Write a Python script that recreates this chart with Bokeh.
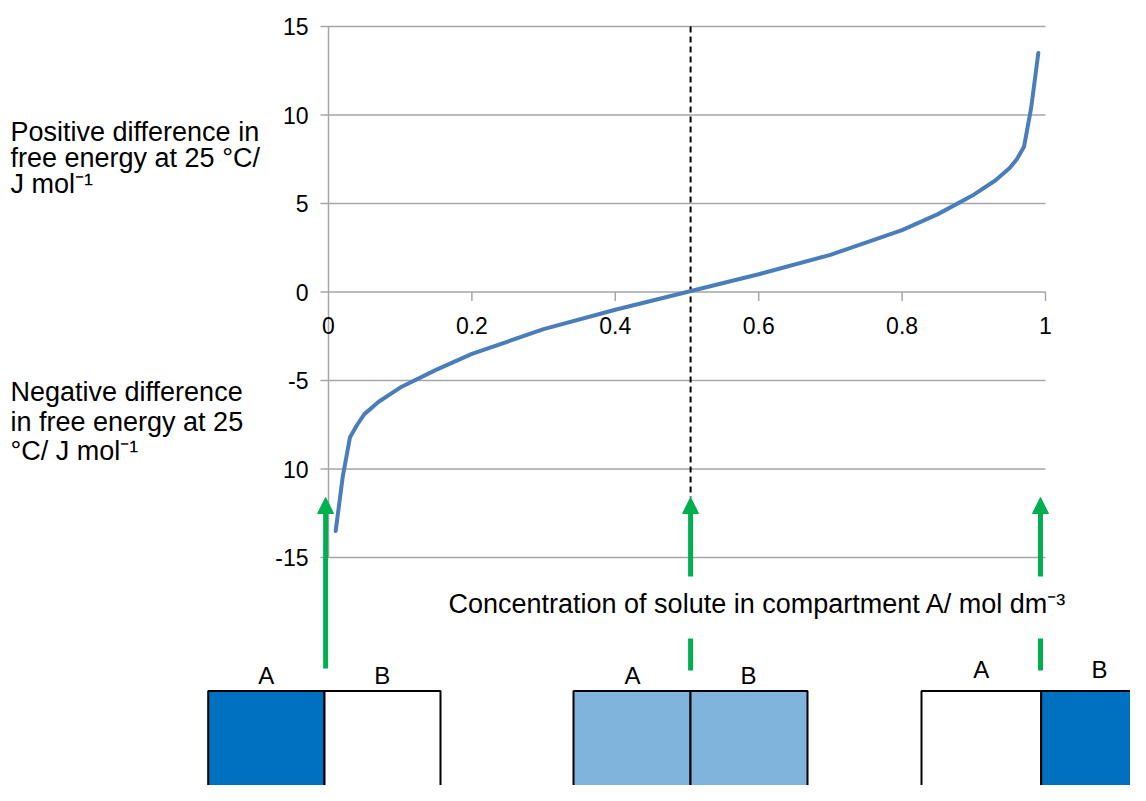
from bokeh.plotting import figure
from bokeh.models import Range1d, Arrow, NormalHead
from bokeh.core.properties import value
from bokeh.embed import file_html
from bokeh.resources import INLINE

# ---------------- data ----------------
conc = [0.01, 0.02, 0.03, 0.04, 0.05, 0.07, 0.10, 0.15, 0.20, 0.30, 0.40, 0.50,
        0.60, 0.70, 0.80, 0.85, 0.90, 0.93, 0.95, 0.96, 0.97, 0.98, 0.99]
dG = [-13.5, -10.4, -8.2, -7.5, -6.9, -6.2, -5.4, -4.4, -3.5, -2.1, -1.0, 0.0,
      1.0, 2.1, 3.5, 4.4, 5.5, 6.3, 7.0, 7.5, 8.2, 10.4, 13.5]

x_ticks = [0.0, 0.2, 0.4, 0.6, 0.8, 1.0]
x_tick_labels = ["0", "0.2", "0.4", "0.6", "0.8", "1"]
y_ticks = [-15, -10, -5, 0, 5, 10, 15]
y_tick_labels = ["-15", "10", "-5", "0", "5", "10", "15"]

marker_conc = [-0.004, 0.505, 0.993]          # green arrows / dashed line
compartments = ["A", "B"]

# ---------------- layout helpers (reference pixel -> data) ----------------
X0, XS = 328.0, 717.0      # pixel of x=0, pixels per unit
Y0, YS = 291.5, 17.7       # pixel of y=0, pixels per unit
TB = 10                    # baseline correction for text glyphs


def dx(px):
    return (px - X0) / XS


def dy(py):
    return (Y0 - py) / YS


def tb(py):
    return dy(py - TB)


W, H = 1130, 785
FONT = value("Liberation Sans")
GRID = "#A6A6A6"
GREEN = "#00B050"
DARK = "#0070C0"
LIGHT = "#80B4DD"
CURVE = "#4A7EBB"

p = figure(width=W, height=H,
           x_range=Range1d(dx(0), dx(W)),
           y_range=Range1d(dy(H), dy(0)),
           output_backend="svg", toolbar_location=None,
           x_axis_location=None, y_axis_location=None,
           min_border=0, outline_line_color=None,
           background_fill_color="white", border_fill_color="white")
p.xgrid.grid_line_color = None
p.ygrid.grid_line_color = None

# gridlines (with outward tick stubs on the left)
p.segment(x0=[dx(320)] * len(y_ticks), x1=[1.0] * len(y_ticks),
          y0=y_ticks, y1=y_ticks, line_color=GRID, line_width=1.5)
# vertical axis line
p.segment(x0=[0], x1=[0], y0=[min(y_ticks)], y1=[max(y_ticks)],
          line_color=GRID, line_width=1.5)
# x tick marks hanging below the zero line
p.segment(x0=x_ticks[1:], x1=x_ticks[1:], y0=[0] * 5, y1=[-9 / YS] * 5,
          line_color=GRID, line_width=1.5)

# dashed vertical line at the midpoint
p.segment(x0=[marker_conc[1]], x1=[marker_conc[1]], y0=[max(y_ticks)],
          y1=[dy(497)], line_color="black", line_width=2, line_dash="6 4")

# curve
p.line(conc, dG, line_color=CURVE, line_width=4, line_cap="round",
       line_join="round")

# tick labels
p.text(x=[dx(308)] * len(y_ticks), y=y_ticks, text=y_tick_labels,
       text_font=FONT, text_font_size="23px", text_align="right",
       text_baseline="middle", text_color="black")
p.text(x=x_ticks, y=[dy(325)] * len(x_ticks), text=x_tick_labels,
       text_font=FONT, text_font_size="23px", text_align="center",
       text_baseline="middle", text_color="black")

# side titles
pos_lines = ["Positive difference in", "free energy at 25 °C/", "J mol\u207b\u00b9"]
neg_lines = ["Negative difference", "in free energy at 25", "°C/ J mol\u207b\u00b9"]
p.text(x=[dx(10)] * 3, y=[tb(141), tb(167), tb(193)], text=pos_lines,
       text_font=FONT, text_font_size="27px", text_align="left",
       text_baseline="alphabetic", text_color="black")
p.text(x=[dx(10)] * 3, y=[tb(401), tb(431), tb(460)], text=neg_lines,
       text_font=FONT, text_font_size="27px", text_align="left",
       text_baseline="alphabetic", text_color="black")
p.text(x=[dx(448)], y=[tb(613)],
       text=["Concentration of solute in compartment A/ mol dm\u207b\u00b3"],
       text_font=FONT, text_font_size="27px", text_align="left",
       text_baseline="alphabetic", text_color="black")

# compartment boxes
box_left = [207.7, 324, 573, 690, 921, 1040.7]
box_right = [324, 440, 690, 807, 1040.7, 1160]
box_fill = [DARK, "white", LIGHT, LIGHT, "white", DARK]
p.quad(left=[dx(v) for v in box_left], right=[dx(v) for v in box_right],
       top=[dy(690.5)] * 6, bottom=[dy(815)] * 6,
       fill_color=box_fill, line_color="black", line_width=2)

lab_x = [265.7, 381.7, 632, 748, 980.7, 1099]
lab_y = [685, 685, 685, 685, 679, 679]
p.text(x=[dx(v) for v in lab_x], y=[tb(v) for v in lab_y],
       text=compartments * 3, text_font=FONT, text_font_size="24px",
       text_align="center", text_baseline="alphabetic", text_color="black")

# green arrows
p.add_layout(Arrow(end=NormalHead(size=16, fill_color=GREEN, line_color=GREEN),
                   x_start=marker_conc[0], y_start=dy(668),
                   x_end=marker_conc[0], y_end=dy(497),
                   line_color=GREEN, line_width=5))
for mx in marker_conc[1:]:
    p.add_layout(Arrow(end=NormalHead(size=16, fill_color=GREEN, line_color=GREEN),
                       x_start=mx, y_start=dy(576), x_end=mx, y_end=dy(497),
                       line_color=GREEN, line_width=5))
p.segment(x0=marker_conc[1:], x1=marker_conc[1:], y0=[dy(638)] * 2,
          y1=[dy(670)] * 2, line_color=GREEN, line_width=5)

open("out.html", "w").write(file_html(p, INLINE))
